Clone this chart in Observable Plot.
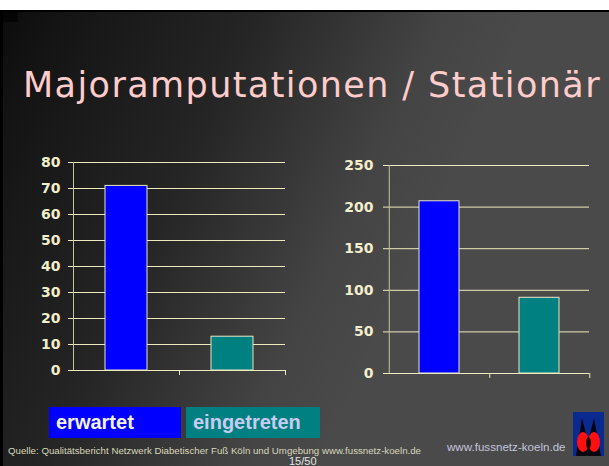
<!DOCTYPE html>
<html>
<head>
<meta charset="utf-8">
<script src="https://cdn.jsdelivr.net/npm/d3@7"></script>
<script src="https://cdn.jsdelivr.net/npm/@observablehq/plot@0.6"></script>
<style>
  html, body { margin: 0; padding: 0; background: #fff; }
  #page { position: relative; width: 609px; height: 466px; overflow: hidden; background: #fff; }
  #frame { position: absolute; left: 0; top: 10px; width: 609px; height: 456px; background: #000; }
  #slide { position: absolute; left: 3px; top: 2px; right: 0; bottom: 0;
    background: linear-gradient(115deg, #0c0c0c 0%, #141414 7%, #252525 31%, #444444 54%, #4a4a4a 65%, #4a4a4a 100%); }
  #corner { position: absolute; left: 3px; top: 12px; width: 15px; height: 10px; background: #050505; }
  #title { position: absolute; left: 23px; top: 65px; font-family: "DejaVu Sans", sans-serif; font-size: 35px;
    letter-spacing: 1.4px; color: #ffcccc; white-space: nowrap; line-height: 40px; }
  .chart { position: absolute; top: 150px; }
  .legend { position: absolute; top: 407px; height: 31px; font-family: "Liberation Sans", Arial, sans-serif;
    font-weight: bold; font-size: 20px; line-height: 31px; box-sizing: border-box; padding-left: 7px; }
  #foot1 { position: absolute; left: 8px; top: 445px; font-family: "Liberation Sans", Arial, sans-serif; font-size: 9.7px;
    line-height: 11px; color: #d8d8b8; white-space: nowrap; }
  #foot2 { position: absolute; left: 289px; top: 456px; font-family: "Liberation Sans", Arial, sans-serif; font-size: 11px;
    line-height: 11px; color: #e4e4e4; white-space: nowrap; }
  #foot3 { position: absolute; left: 447px; top: 440px; font-family: "Liberation Sans", Arial, sans-serif; font-size: 11.6px;
    line-height: 13px; color: #c4c4dc; white-space: nowrap; }
  #logo { position: absolute; left: 573px; top: 412px; }
</style>
</head>
<body>
<div id="page">
  <div id="frame"><div id="slide"></div></div>
  <div id="corner"></div>
  <div id="title">Majoramputationen / Stationär</div>
  <div id="left" class="chart" style="left:20px"></div>
  <div id="right" class="chart" style="left:320px"></div>
  <div id="leg1" class="legend" style="left:49px; width:132px; background:#0000ff; color:#f4f2e0;"></div>
  <div id="leg2" class="legend" style="left:186px; width:134px; background:#008080; color:#c8ccf0;"></div>
  <div id="foot1">Quelle: Qualitätsbericht Netzwerk Diabetischer Fuß Köln und Umgebung www.fussnetz-koeln.de</div>
  <div id="foot2">15/50</div>
  <div id="foot3">www.fussnetz-koeln.de</div>
  <svg id="logo" width="31" height="44" viewBox="0 0 31 44">
    <rect x="0" y="0" width="31" height="44" fill="#0a2a90"/>
    <path d="M3 44 L9 6 L15 30 L21 6 L28 44 Z" fill="#050510"/>
    <ellipse cx="10" cy="30" rx="6" ry="10" fill="#ff1010"/>
    <ellipse cx="21" cy="30" rx="6" ry="10" fill="#ff1010"/>
    <ellipse cx="15.5" cy="31" rx="2.5" ry="6" fill="#200000"/>
  </svg>
</div>
<script>
// ---- data ----
const categories = ["erwartet", "eingetreten"];
const leftValues = [71, 13];
const rightValues = [207, 91];
const leftTicks = [0, 10, 20, 30, 40, 50, 60, 70, 80];
const rightTicks = [0, 50, 100, 150, 200, 250];
const barColors = ["#0000ff", "#008080"];

// ---- styles ----
const gridColor = "#ecebbd";
const axisColor = "#c4c3a0";
const labelColor = "#f2eecb";
const barStroke = "#e8e6c4";

document.getElementById("leg1").textContent = categories[0];
document.getElementById("leg2").textContent = categories[1];

function chart(values, ticks, dims) {
  const {width, height, marginLeft, marginRight, marginTop, marginBottom, tickPadding} = dims;
  const data = categories.map((c, i) => ({c, v: values[i]}));
  const step = (width - marginLeft - marginRight) / categories.length;
  return Plot.plot({
    width, height, marginLeft, marginRight, marginTop, marginBottom,
    style: {background: "transparent", color: labelColor, fontFamily: "'DejaVu Sans', sans-serif",
      fontSize: "14px", fontWeight: "bold", overflow: "visible"},
    x: {domain: categories, paddingInner: 0.6, paddingOuter: 0.3, axis: null, label: null},
    y: {domain: [0, ticks[ticks.length - 1]], axis: null, label: null},
    color: {domain: categories, range: barColors},
    marks: [
      Plot.gridY(ticks, {stroke: gridColor, strokeOpacity: 1}),
      Plot.barY(data, {x: "c", y: "v", fill: "c", stroke: barStroke, strokeWidth: 1}),
      Plot.ruleY([0], {stroke: gridColor}),
      Plot.ruleX(categories.slice(0, 1), {x: d => d, dx: -step / 2, y1: 0, y2: ticks[ticks.length - 1], stroke: axisColor}),
      Plot.axisY(ticks, {tickSize: 5, tickPadding, stroke: gridColor, fill: labelColor, label: null, tickFormat: d => String(d)}),
      Plot.axisX(categories, {tickSize: 5, tickFormat: () => "", label: null, dx: step / 2, stroke: gridColor})
    ]
  });
}

document.getElementById("left").append(chart(leftValues, leftTicks,
  {width: 280, height: 235, marginLeft: 53, marginRight: 15, marginTop: 12, marginBottom: 15, tickPadding: 8}));
document.getElementById("right").append(chart(rightValues, rightTicks,
  {width: 280, height: 235, marginLeft: 68, marginRight: 11, marginTop: 15, marginBottom: 12, tickPadding: 10}));
</script>
</body>
</html>
